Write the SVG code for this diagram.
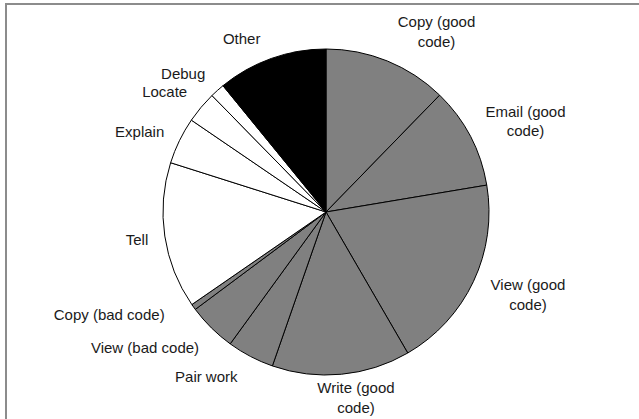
<svg xmlns="http://www.w3.org/2000/svg" width="639" height="419" viewBox="0 0 639 419">
<style>
.s{stroke:#000;stroke-width:1;stroke-linejoin:round}
.g{fill:#808080}
.w{fill:#fff}
.k{fill:#000}
text{font-family:"Liberation Sans",Arial,sans-serif;font-size:15px;fill:#1a1a1a;text-anchor:middle}
</style>
<rect x="0" y="0" width="639" height="419" fill="#fff"/>
<g id="frame" fill="none" stroke="#8c8c8c" stroke-width="2">
<line x1="6" y1="4" x2="639" y2="4"/>
<line x1="6" y1="3" x2="6" y2="419"/>
</g>
<g id="copy-good"><path class="s g" d="M326,212 L326,49 A163,163 0 0 1 439.66,95.17 Z"/><text x="436.5" y="27">Copy (good</text><text x="436.5" y="47">code)</text></g>
<g id="email-good"><path class="s g" d="M326,212 L439.66,95.17 A163,163 0 0 1 486.77,185.10 Z"/><text x="525.5" y="117">Email (good</text><text x="525.5" y="136">code)</text></g>
<g id="view-good"><path class="s g" d="M326,212 L486.77,185.10 A163,163 0 0 1 407.75,353.02 Z"/><text x="528" y="290">View (good</text><text x="528" y="310">code)</text></g>
<g id="write-good"><path class="s g" d="M326,212 L407.75,353.02 A163,163 0 0 1 272.39,365.93 Z"/><text x="356" y="393">Write (good</text><text x="356" y="413">code)</text></g>
<g id="pair-work"><path class="s g" d="M326,212 L272.39,365.93 A163,163 0 0 1 230.19,343.87 Z"/><text x="206.3" y="382">Pair work</text></g>
<g id="view-bad"><path class="s g" d="M326,212 L230.19,343.87 A163,163 0 0 1 195.31,309.41 Z"/><text x="145" y="353">View (bad code)</text></g>
<g id="copy-bad"><path class="s g" d="M326,212 L195.31,309.41 A163,163 0 0 1 191.83,304.56 Z"/><text x="109.2" y="320">Copy (bad code)</text></g>
<g id="tell"><path class="s w" d="M326,212 L191.83,304.56 A163,163 0 0 1 170.63,162.71 Z"/><text x="137" y="245">Tell</text></g>
<g id="explain"><path class="s w" d="M326,212 L170.63,162.71 A163,163 0 0 1 191.35,120.14 Z"/><text x="139.7" y="137">Explain</text></g>
<g id="locate"><path class="s w" d="M326,212 L191.35,120.14 A163,163 0 0 1 211.96,95.54 Z"/><text x="164.7" y="97">Locate</text></g>
<g id="debug"><path class="s w" d="M326,212 L211.96,95.54 A163,163 0 0 1 222.98,85.69 Z"/><text x="183.2" y="79">Debug</text></g>
<g id="other"><path class="s k" d="M326,212 L222.98,85.69 A163,163 0 0 1 326,49 Z"/><text x="241.7" y="44">Other</text></g>
<g id="connectors"></g>
</svg>
